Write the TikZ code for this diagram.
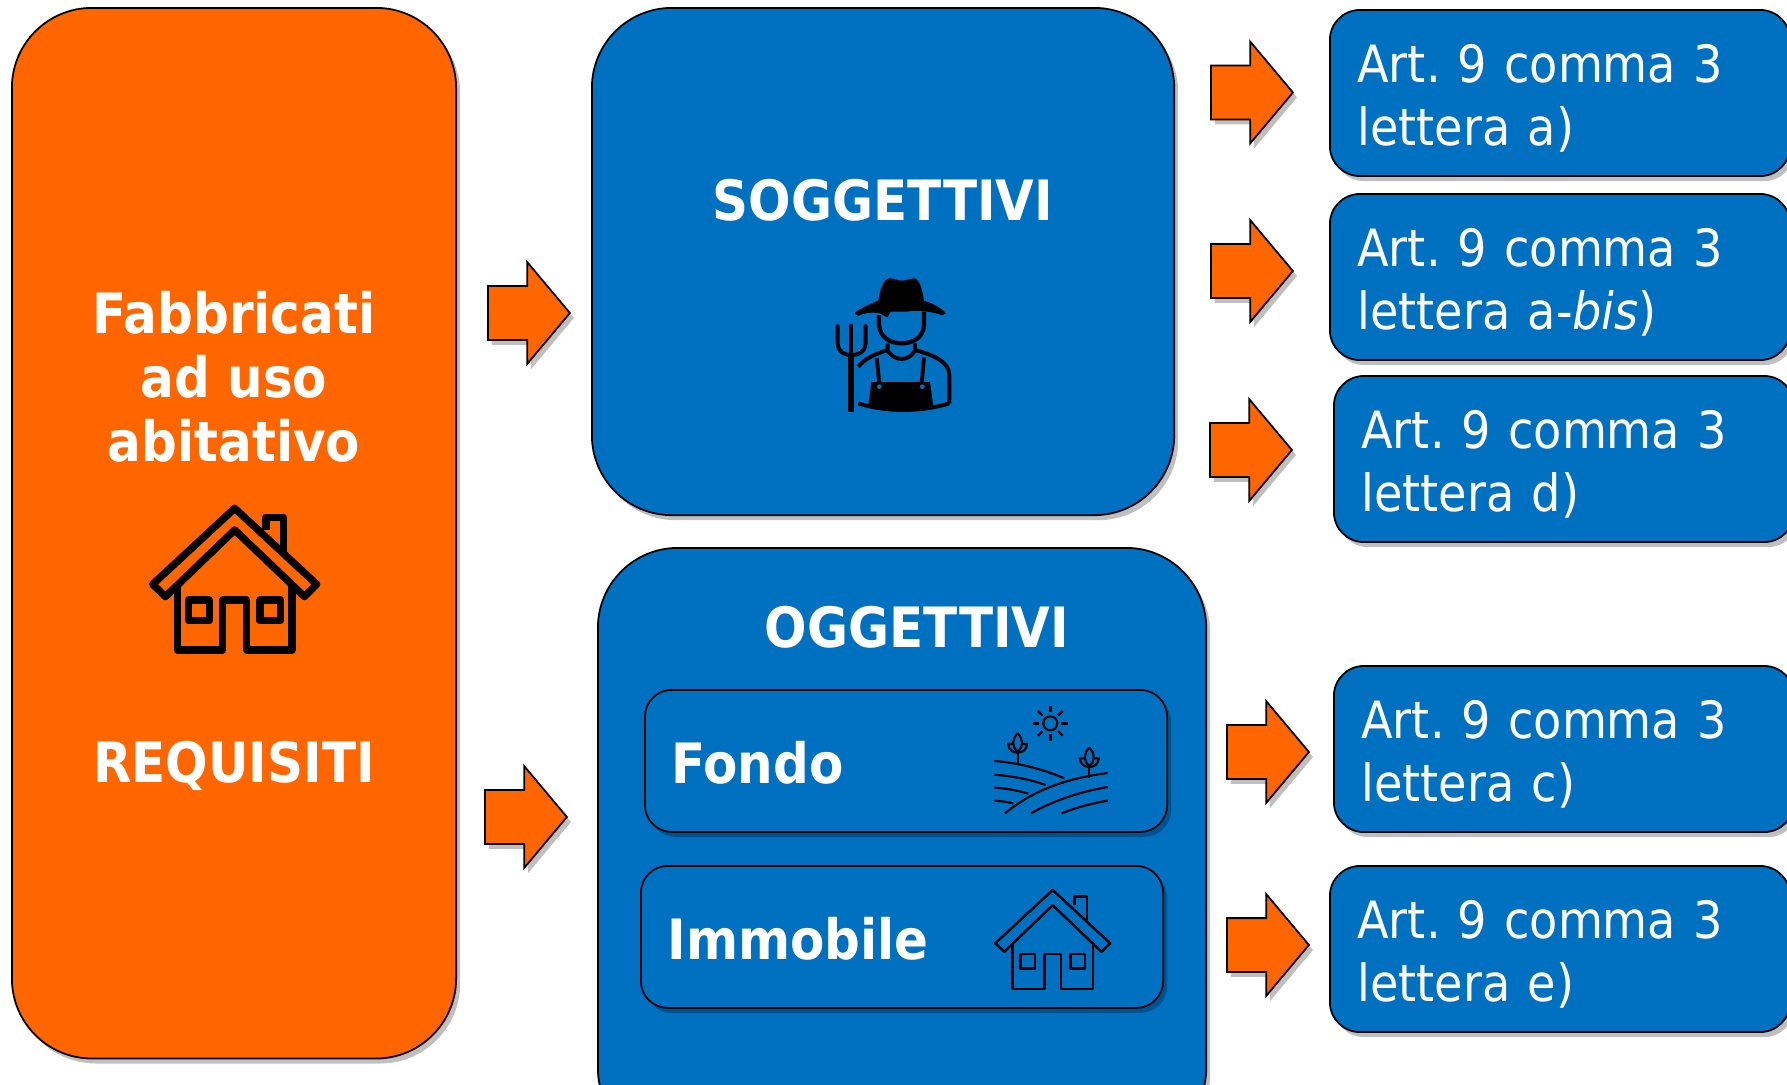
\documentclass[tikz,border=0pt]{standalone}
\usepackage{fontspec}
\setmainfont{DejaVu Sans Condensed}
\usepackage{xcolor}
\usepackage{tikz}
\usetikzlibrary{shapes.arrows}
\usetikzlibrary{shadows}
\frenchspacing
\definecolor{arancio}{HTML}{FF6600}
\definecolor{blu}{HTML}{0070C0}
\tikzset{
    softshadow/.style = {drop shadow={shadow xshift=0.04cm,shadow yshift=-0.05cm,opacity=0.25,fill=black}},
    bigbox/.style = {draw=black, line width=0.5pt, rounded corners=0.8cm, anchor=north west, inner sep=0, softshadow},
    artbox/.style = {draw=black, fill=blu, line width=0.5pt, rounded corners=0.3cm, anchor=west, text=white, align=left,
        text width=4.05cm, inner xsep=0.275cm, inner ysep=0, minimum height=1.66cm, text height=0.49cm, font=\fontsize{14.6}{18}\selectfont, softshadow},
    subbox/.style = {draw=black, fill=blu, line width=0.5pt, rounded corners=0.27cm, anchor=north west, minimum width=5.22cm, minimum height=1.42cm, inner sep=0, softshadow},
    blockarrow/.style = {single arrow, draw=black, fill=arancio, line width=0.5pt, anchor=tail, inner xsep=0, inner ysep=0.26cm,
        minimum height=0.82cm, single arrow head extend=0.24cm, single arrow tip angle=100, single arrow head indent=0, softshadow},
    bigtext/.style = {text=white, align=center, inner sep=0, font=\fontsize{15.8}{18.2}\selectfont\bfseries},
    houseicon/.pic = {
        \draw[line join=round] (0,0) -- (82,76) -- (69.7,88.3) -- (0,21.7) -- (-69.3,88.3) -- (-82,76) -- cycle;
        \draw[line join=round] (31.3,21.7) -- (31.3,9) -- (48.7,9) -- (48.7,43.3);
        \draw[line join=round] (-57.3,76.7) -- (-57.3,141.7) -- (-12,141.7) -- (-12,91.7) -- (12,91.7) -- (12,141.7) -- (57.3,141.7) -- (57.3,76.7);
        \draw[line join=round] (-46,91.7) rectangle (-25.3,112.3);
        \draw[line join=round] (25.3,91.7) rectangle (46,112.3);
    },
    planticon/.pic = {
        \draw (0,55) -- (0,90);
        \draw (0,0) .. controls (-18,18) and (-18,40) .. (0,55) .. controls (18,40) and (18,18) .. (0,0);
        \draw (-14,32) -- (-28,32) .. controls (-28,48) and (-16,58) .. (0,58) .. controls (16,58) and (28,48) .. (28,32) -- (14,32);
    },
}
\begin{document}
\begin{tikzpicture}[x=0.01cm,y=-0.01cm]
\useasboundingbox (0,0) rectangle (1787,1084);
% left column
\node[bigbox,fill=arancio,minimum width=4.44cm,minimum height=10.5cm] at (11,7) (requisitibox) {};
\node[bigtext] at (234,377) (fabbricati) {Fabbricati\\ad uso\\abitativo};
\node[bigtext] at (234,766) (requisiti) {REQUISITI};
\pic[line width=2.1pt] at (234.7,508.3) {houseicon};
%
\node[blockarrow] at (487,313) (arrowsogg) {};
\node[blockarrow] at (484,817) (arrowogg) {};
% soggettivi
\node[bigbox,fill=blu,minimum width=5.82cm,minimum height=5.07cm] at (591,7) (soggbox) {};
\node[bigtext] at (883,200) (sogg) {SOGGETTIVI};
\begin{scope}[shift={(800,260)},scale=1/3]
\fill (165,158) .. controls (190,140) and (215,130) .. (235,122) .. controls (240,90) and (250,55) .. (270,55)
    .. controls (285,55) and (290,62) .. (305,62) .. controls (320,62) and (330,55) .. (345,55) .. controls (360,60) and (368,95) .. (372,122)
    .. controls (395,130) and (420,140) .. (438,160) .. controls (432,168) and (425,165) .. (415,162)
    .. controls (380,152) and (345,150) .. (320,155) -- (272,155) -- (262,172) -- (240,160) .. controls (215,155) and (190,160) .. (175,167) .. controls (168,166) and (165,162) .. (165,158) -- cycle;
\draw[line width=1.2pt] (237,165) -- (237,195) .. controls (240,232) and (270,250) .. (305,250) .. controls (340,250) and (370,232) .. (372,195) -- (372,155);
\draw[line width=1.1pt] (263,250) -- (263,272) .. controls (285,305) and (325,305) .. (345,272) -- (345,250);
\draw[line width=1.1pt] (175,320) .. controls (195,295) and (225,282) .. (263,270);
\draw[line width=1.1pt] (345,270) .. controls (400,285) and (448,305) .. (448,345) -- (448,430);
\draw[line width=1.1pt] (175,430) .. controls (260,458) and (370,455) .. (448,430);
\draw[line width=1.1pt] (230,295) -- (238,370);
\draw[line width=1.1pt] (372,292) -- (365,370);
\fill (214,366) -- (390,366) -- (400,440) .. controls (340,452) and (260,452) .. (205,438) -- cycle;
\fill[blu] (238,380) circle (7);
\fill[blu] (367,380) circle (7);
\draw[line width=1.7pt] (153,285) -- (153,455);
\draw[line width=1.1pt,line cap=round] (153,197) -- (153,285);
\draw[line width=1.1pt,line cap=round] (113,197) -- (113,250) .. controls (115,278) and (135,285) .. (153,285) .. controls (175,285) and (195,278) .. (197,250) -- (197,197);
\end{scope}
% oggettivi
\node[bigbox,fill=blu,minimum width=6.08cm,minimum height=6cm] at (597,547) (oggbox) {};
\node[bigtext] at (917,627) (ogg) {OGGETTIVI};
\node[subbox] at (644,689) (fondobox) {};
\node[bigtext,anchor=west] at (671,763) (fondo) {Fondo};
\node[subbox] at (640,865) (immobilebox) {};
\node[bigtext,anchor=west] at (667,939) (immobile) {Immobile};
\begin{scope}[shift={(960,680)},scale=1/3,line width=0.6pt]
\draw (271,130) circle (21);
\foreach \a in {0,45,...,315} {
    \draw[line width=0.7pt,shift={(271,130)}] (\a:33) -- (\a:52);
}
\pic[scale=1/3] at (173,160) {planticon};
\pic[scale=1/3] at (388,203) {planticon};
\draw (103,243) .. controls (175,248) and (250,268) .. (313,295);
\draw (103,284) .. controls (155,288) and (210,298) .. (257,315);
\draw (103,323) .. controls (140,325) and (175,332) .. (205,341);
\draw (103,362) .. controls (122,363) and (142,366) .. (160,370);
\draw (135,400) .. controls (220,330) and (320,295) .. (443,279);
\draw (213,400) .. controls (280,362) and (360,335) .. (443,321);
\draw (305,400) .. controls (350,382) and (395,370) .. (443,362);
\end{scope}
\pic[scale=0.7,line width=0.7pt] at (1052.7,890) {houseicon};
% right column
\node[blockarrow] at (1210,92.5) (arrowa) {};
\node[blockarrow] at (1210,271) (arrowb) {};
\node[blockarrow] at (1209,450) (arrowd) {};
\node[blockarrow] at (1226,752) (arrowc) {};
\node[blockarrow] at (1226,945) (arrowe) {};
\node[artbox] at (1329,93) (arta) {Art. 9 comma 3\\lettera a)};
\node[artbox] at (1329,277) (artb) {Art. 9 comma 3\\lettera a-\textit{bis})};
\node[artbox] at (1333,459) (artd) {Art. 9 comma 3\\lettera d)};
\node[artbox] at (1333,749) (artc) {Art. 9 comma 3\\lettera c)};
\node[artbox] at (1329,949) (arte) {Art. 9 comma 3\\lettera e)};
\end{tikzpicture}
\end{document}
